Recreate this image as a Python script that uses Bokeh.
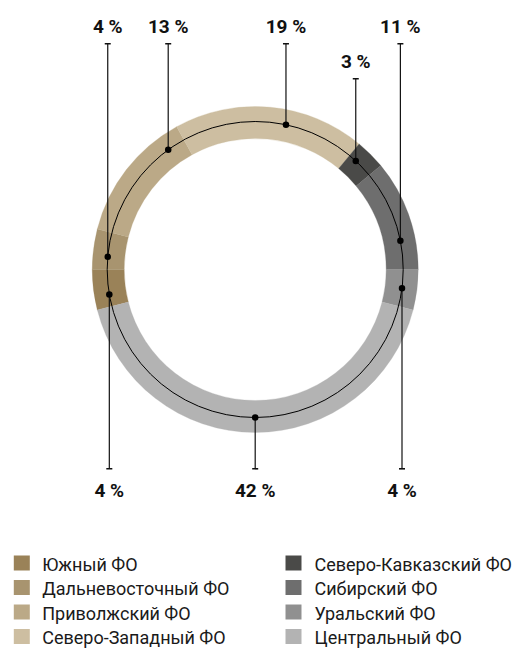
import math
from bokeh.plotting import figure
from bokeh.models import Range1d, ColumnDataSource
from bokeh.core.properties import value
from bokeh.embed import file_html
from bokeh.resources import INLINE

# ---------------- data ----------------
regions = ["Южный ФО", "Дальневосточный ФО", "Приволжский ФО", "Северо-Западный ФО",
           "Северо-Кавказский ФО", "Сибирский ФО", "Уральский ФО", "Центральный ФО"]
shares = [4, 4, 13, 19, 3, 11, 4, 42]
colors = ["#9a8258", "#a8946f", "#bba987", "#cdbea1",
          "#4a4a48", "#6e6e6e", "#909090", "#b3b3b3"]

# ---------------- layout ----------------
W, H = 513, 653
def X(ix):  # picture px -> data x
    return ix
def Y(iy):  # picture px -> data y
    return H - iy

TEXT_DY = 6.5  # renderer places alphabetic baseline this much lower

CX, CY = X(254.7), Y(269)
R_OUT, R_IN, R_MID = 163, 131, 148
dot_angle_deg = [189.7, 175.1, 126, 78, 47.2, 11.2, -7.3, -90]
leader_end_img = [468.3, 43.3, 43.3, 43.3, 78.3, 43.3, 468.3, 468.3]

FONT = value("Roboto")

p = figure(width=W, height=H, x_range=Range1d(0, W), y_range=Range1d(0, H),
           x_axis_type=None, y_axis_type=None, toolbar_location=None,
           output_backend="svg", min_border=0, outline_line_color=None,
           background_fill_color="white", border_fill_color="white")
p.xgrid.visible = False
p.ygrid.visible = False

# ---- ring wedges (clockwise from the left, Central centred at the bottom)
total = sum(shares)
a0 = -90 + (total - shares[-1] / 2) * 360 / total
starts, ends = [], []
a = a0
for v in shares:
    b = a - v * 360 / total
    starts.append(math.radians(b))
    ends.append(math.radians(a))
    a = b

src = ColumnDataSource(dict(x=[CX] * len(shares), y=[CY] * len(shares),
                            s=starts, e=ends, c=colors))
p.annular_wedge(x="x", y="y", inner_radius=R_IN, outer_radius=R_OUT,
                inner_radius_units="screen", outer_radius_units="screen",
                start_angle="s", end_angle="e", fill_color="c",
                line_color="c", line_width=0.3, source=src)

# ---- middle circle
p.arc(x=CX, y=CY, radius=R_MID, radius_units="screen", start_angle=0,
      end_angle=2 * math.pi, line_color="#000000", line_width=1)

# ---- leaders, dots, labels
dx, dy, ex, ey, labels, lx, ly = [], [], [], [], [], [], []
for v, ang, end_img in zip(shares, dot_angle_deg, leader_end_img):
    r = math.radians(ang)
    px = CX + R_MID * math.cos(r)
    py = CY + R_MID * math.sin(r)
    dx.append(px); dy.append(py)
    ex.append(px); ey.append(Y(end_img))
    labels.append(f"{v} %")
    lx.append(px)
    if end_img > 269:
        ly.append(Y(end_img + 28 - TEXT_DY))
    else:
        ly.append(Y(end_img - 11 - TEXT_DY))

p.segment(x0=dx, y0=dy, x1=ex, y1=ey, line_color="#111111", line_width=1.2)
p.segment(x0=[x - 3 for x in ex], y0=ey, x1=[x + 3 for x in ex], y1=ey,
          line_color="#111111", line_width=1.6)
p.scatter(x=dx, y=dy, size=6.5, fill_color="#000000", line_color=None)
p.text(x=lx, y=ly, text=labels, text_font=FONT, text_font_style="bold",
       text_font_size="19px", text_align="center", text_baseline="alphabetic",
       text_color="#111111")

# ---- legend (two columns, four rows)
col_sq_x = [21.3, 293]
col_tx_x = [41.7, 314]
row_base = [570, 594.5, 619, 643.5]
sqx, sqy, tx, ty = [], [], [], []
for i, name in enumerate(regions):
    c, rr = divmod(i, 4)
    sqx.append(X(col_sq_x[c])); sqy.append(Y(row_base[rr] - 7.5))
    tx.append(X(col_tx_x[c])); ty.append(Y(row_base[rr] - TEXT_DY))
p.rect(x=sqx, y=sqy, width=16, height=15, width_units="screen",
       height_units="screen", fill_color=colors, line_color=None)
p.text(x=tx, y=ty, text=regions, text_font=FONT, text_font_size="18px",
       text_align="left", text_baseline="alphabetic", text_color="#1a1a1a")

open("out.html", "w").write(file_html(p, INLINE))
